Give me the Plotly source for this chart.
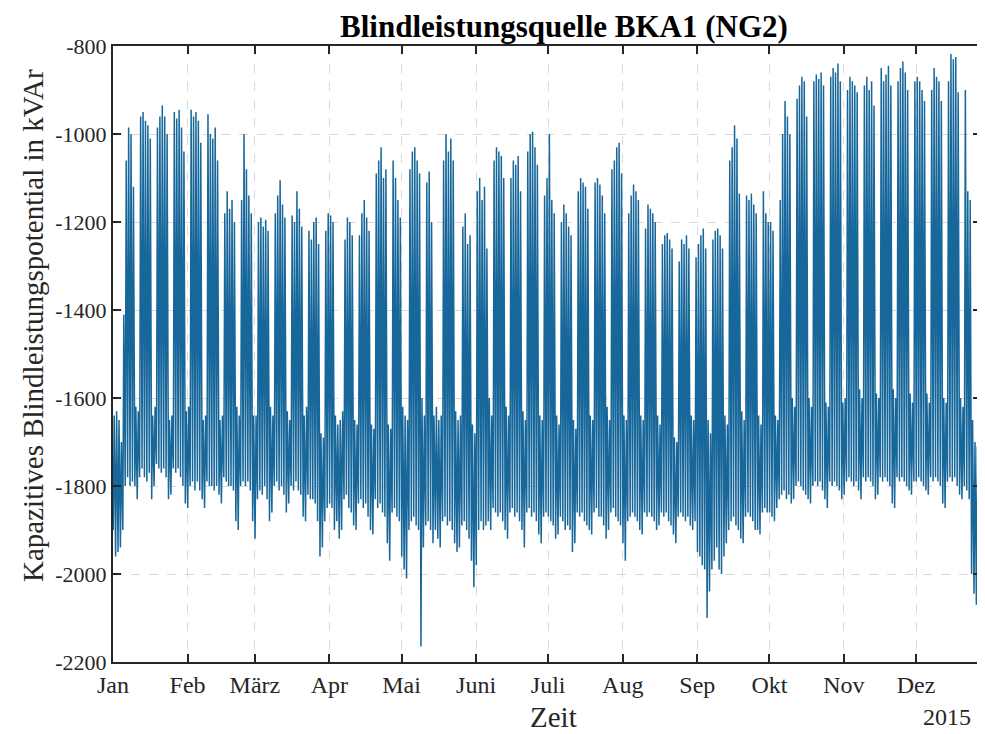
from datetime import datetime, timedelta

import plotly.graph_objects as go

# Tageswerte (kVAr): Tageshoechstwert (max_*) und naechtlicher Tiefstwert (min_*)
max_jan = [-1640, -1630, -1650, -1700, -1410, -1060, -985, -1000, -1120, -1620, -1630, -960, -950, -970, -980, -1010,
           -1640, -1620, -985, -960, -935, -960, -1000, -1650, -1640, -950, -965, -945, -985, -1040, -1630]
min_jan = [-1900, -1960, -1950, -1940, -1900, -1800, -1780, -1800, -1790, -1800, -1830, -1780, -1760, -1780, -1790, -1770,
           -1830, -1800, -1750, -1760, -1770, -1760, -1780, -1830, -1820, -1760, -1770, -1760, -1780, -1800, -1840]
max_feb = [-1620, -945, -960, -950, -970, -1020, -1650, -1640, -955, -1000, -1010, -985, -1060, -1650, -1640, -1180,
           -1130, -1170, -1150, -1200, -1620, -1640, -1150, -1000, -1080, -1140, -1180, -1640]
min_feb = [-1850, -1800, -1790, -1810, -1790, -1810, -1830, -1850, -1790, -1800, -1800, -1810, -1800, -1820, -1840, -1780,
           -1790, -1800, -1800, -1810, -1880, -1900, -1800, -1790, -1800, -1790, -1810, -1880]
max_mar = [-1640, -1200, -1190, -1210, -1195, -1220, -1620, -1640, -1180, -1140, -1105, -1160, -1190, -1630, -1650, -1185,
           -1200, -1130, -1170, -1210, -1640, -1620, -1220, -1240, -1200, -1190, -1250, -1680, -1690, -1220, -1180]
min_mar = [-1920, -1830, -1810, -1820, -1800, -1830, -1880, -1860, -1800, -1790, -1810, -1800, -1820, -1860, -1840, -1800,
           -1810, -1790, -1810, -1820, -1870, -1880, -1820, -1830, -1830, -1840, -1880, -1960, -1940, -1880, -1850]
max_apr = [-1185, -1200, -1640, -1660, -1650, -1630, -1240, -1190, -1200, -1230, -1650, -1660, -1230, -1180, -1150, -1190,
           -1220, -1660, -1670, -1090, -1060, -1030, -1100, -1080, -1660, -1670, -1060, -1100, -1150, -1190]
min_apr = [-1840, -1850, -1900, -1880, -1920, -1900, -1830, -1820, -1850, -1860, -1890, -1900, -1840, -1830, -1850, -1840,
           -1870, -1900, -1910, -1830, -1850, -1840, -1860, -1870, -1930, -1970, -1860, -1850, -1870, -1880]
max_mai = [-1620, -1640, -1650, -1080, -1040, -1030, -1060, -1090, -1600, -1640, -1110, -1085, -1200, -1640, -1620, -1650,
           -1640, -1060, -1000, -1040, -1010, -1060, -1630, -1650, -1640, -1210, -1180, -1250, -1230, -1660, -1680]
min_mai = [-1960, -1990, -2010, -1900, -1880, -1870, -1890, -1900, -2165, -1940, -1890, -1880, -1900, -1930, -1900, -1920,
           -1940, -1880, -1870, -1890, -1880, -1900, -1930, -1950, -1940, -1890, -1880, -1900, -1920, -1970, -2030]
max_jun = [-1130, -1100, -1150, -1120, -1260, -1600, -1640, -1060, -1030, -1040, -1050, -1100, -1620, -1640, -1100, -1060,
           -1070, -1050, -1130, -1630, -1650, -1040, -1000, -995, -1030, -1070, -1640, -1650, -1140, -1100]
min_jun = [-1980, -1900, -1880, -1900, -1890, -1880, -1900, -1850, -1860, -1870, -1860, -1880, -1900, -1920, -1860, -1850,
           -1870, -1860, -1880, -1900, -1940, -1860, -1850, -1870, -1860, -1880, -1910, -1930, -1870, -1860]
max_jul = [-1000, -1150, -1180, -1640, -1660, -1200, -1160, -1180, -1210, -1230, -1650, -1670, -1130, -1100, -1110, -1120,
           -1170, -1640, -1650, -1110, -1100, -1115, -1140, -1180, -1620, -1650, -1080, -1060, -1030, -1020, -1090]
min_jul = [-1870, -1880, -1890, -1920, -1910, -1870, -1880, -1900, -1890, -1900, -1950, -1930, -1860, -1870, -1860, -1880,
           -1890, -1900, -1910, -1860, -1850, -1870, -1870, -1890, -1920, -1900, -1860, -1850, -1870, -1880, -1890]
max_aug = [-1640, -1650, -1180, -1140, -1115, -1130, -1150, -1640, -1650, -1215, -1160, -1170, -1180, -1200, -1640, -1660,
           -1250, -1230, -1225, -1240, -1260, -1690, -1700, -1290, -1240, -1250, -1230, -1260, -1640, -1650, -1280]
min_aug = [-1930, -1970, -1880, -1870, -1860, -1870, -1880, -1900, -1910, -1860, -1870, -1860, -1870, -1880, -1900, -1890,
           -1860, -1870, -1860, -1880, -1890, -1910, -1930, -1870, -1860, -1870, -1880, -1870, -1890, -1900, -1880]
max_sep = [-1250, -1230, -1215, -1260, -1650, -1680, -1240, -1220, -1215, -1230, -1260, -1640, -1660, -1060, -1030, -980,
           -1010, -1135, -1630, -1650, -1140, -1150, -1135, -1160, -1180, -1640, -1660, -1130, -1180, -1200]
min_sep = [-1950, -1960, -1980, -1990, -2100, -2040, -1990, -1970, -1940, -1990, -2000, -1960, -1930, -1900, -1880, -1870,
           -1890, -1900, -1920, -1930, -1870, -1860, -1870, -1880, -1900, -1900, -1910, -1860, -1850, -1860]
max_okt = [-1200, -1220, -1640, -1650, -1150, -1000, -925, -960, -1000, -1600, -1620, -920, -890, -870, -880, -960,
           -1600, -1620, -880, -865, -875, -860, -890, -1610, -1620, -870, -850, -860, -840, -880, -1610]
min_okt = [-1860, -1870, -1880, -1850, -1830, -1820, -1810, -1830, -1820, -1840, -1830, -1800, -1790, -1800, -1810, -1820,
           -1830, -1840, -1800, -1790, -1800, -1790, -1810, -1830, -1850, -1790, -1800, -1790, -1800, -1810, -1830]
max_nov = [-1600, -900, -870, -880, -890, -905, -1580, -1600, -890, -870, -900, -880, -935, -1590, -1600, -850,
           -880, -865, -845, -890, -1580, -1600, -880, -850, -835, -860, -900, -1590, -1610, -880]
min_nov = [-1820, -1790, -1780, -1790, -1800, -1790, -1810, -1830, -1780, -1790, -1780, -1790, -1800, -1830, -1820, -1780,
           -1790, -1780, -1790, -1800, -1840, -1850, -1780, -1790, -1780, -1790, -1800, -1810, -1820, -1790]
max_dez = [-870, -880, -900, -925, -1590, -1610, -900, -850, -870, -880, -925, -1600, -1610, -880, -818, -830,
           -825, -905, -1600, -1620, -900, -1130, -1150, -1650, -1700, -1710, -1640]
min_dez = [-1790, -1780, -1790, -1800, -1810, -1820, -1780, -1790, -1780, -1790, -1800, -1840, -1850, -1790, -1780, -1790,
           -1780, -1800, -1820, -1830, -1800, -1810, -1830, -2000, -2045, -2070, -1990]

monat_tick = ['2015-01-01', '2015-02-01', '2015-03-01', '2015-04-01', '2015-05-01', '2015-06-01',
              '2015-07-01', '2015-08-01', '2015-09-01', '2015-10-01', '2015-11-01', '2015-12-01']
monat_text = ['Jan', 'Feb', 'März', 'Apr', 'Mai', 'Juni', 'Juli', 'Aug', 'Sep', 'Okt', 'Nov', 'Dez']
y_ticks = [-2200, -2000, -1800, -1600, -1400, -1200, -1000, -800]

tages_max = max_jan + max_feb + max_mar + max_apr + max_mai + max_jun + max_jul + max_aug + max_sep + max_okt + max_nov + max_dez
tages_min = min_jan + min_feb + min_mar + min_apr + min_mai + min_jun + min_jul + min_aug + min_sep + min_okt + min_nov + min_dez

# nachts Tiefstwert, mittags Hoechstwert
start = datetime(2015, 1, 1)
zeit, werte = [], []
for i, (lo, hi) in enumerate(zip(tages_min, tages_max)):
    zeit.append(start + timedelta(days=i, hours=2))
    werte.append(lo)
    zeit.append(start + timedelta(days=i, hours=12))
    werte.append(hi)

achse = '#262626'
schrift = 'Liberation Serif'

fig = go.Figure()
fig.add_trace(go.Scatter(x=zeit, y=werte, mode='lines', line=dict(color='#17679b', width=1.5),
                         hoverinfo='skip'))

# die Seite hat 8 px Rand, daher etwas kleiner
fig.update_layout(width=977, height=726, margin=dict(l=105, r=2, t=38, b=72),
                  plot_bgcolor='white', paper_bgcolor='white', showlegend=False,
                  font=dict(family=schrift, size=22, color=achse))

fig.update_xaxes(type='date', range=['2015-01-01', '2015-12-28'], tickvals=monat_tick, ticktext=monat_text,
                 tickfont=dict(size=24),
                 ticks='inside', ticklen=8, tickwidth=1.5, tickcolor=achse,
                 showline=True, linewidth=2, linecolor=achse, mirror='ticks',
                 showgrid=True, gridcolor='#d9d9d9', gridwidth=1.3, griddash='dash', zeroline=False)
fig.update_yaxes(range=[-2200, -800], tickvals=y_ticks, ticktext=[str(v) for v in y_ticks],
                 ticks='inside', ticklen=8, tickwidth=1.5, tickcolor=achse,
                 showline=True, linewidth=2, linecolor=achse, mirror='ticks',
                 showgrid=True, gridcolor='#d9d9d9', gridwidth=1.3, griddash='dash', zeroline=False)

# Titel und Achsenbeschriftungen
fig.add_annotation(text='<b>Blindleistungsquelle BKA1 (NG2)</b>', xref='paper', yref='paper', x=0.5195, y=1,
                   yshift=20, xanchor='center', yanchor='middle', showarrow=False,
                   font=dict(family=schrift, size=31, color='black'))
fig.add_annotation(text='Kapazitives Blindleistungspotential in kVAr', xref='paper', yref='paper', x=0, y=0.5455,
                   xshift=-80, xanchor='center', yanchor='middle', textangle=-90, showarrow=False,
                   font=dict(family=schrift, size=29, color=achse))
fig.add_annotation(text='Zeit', xref='paper', yref='paper', x=0.507, y=0, yshift=-55,
                   xanchor='center', yanchor='middle', showarrow=False,
                   font=dict(family=schrift, size=29, color=achse))
fig.add_annotation(text='2015', xref='paper', yref='paper', x=1, y=0, xanchor='right', yanchor='middle',
                   xshift=-8, yshift=-55, showarrow=False, font=dict(family=schrift, size=24, color=achse))

fig.write_html("out.html")
